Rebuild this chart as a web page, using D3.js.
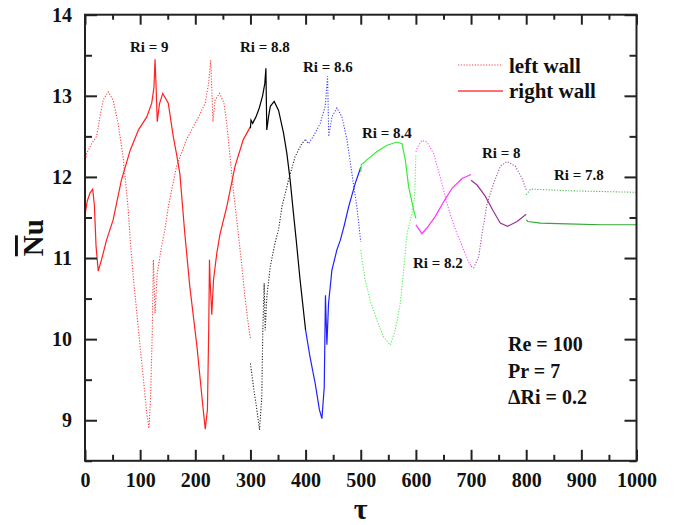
<!DOCTYPE html>
<html>
<head>
<meta charset="utf-8">
<script src="https://cdn.jsdelivr.net/npm/d3@7"></script>
<style>
  body { margin: 0; background: #fff; }
  text { font-family: "Liberation Serif", "Times New Roman", serif; font-weight: bold; fill: #111; }
</style>
</head>
<body>
<div id="container"></div>
<script>
/* DATA : [tau, Nu] pairs */
const ri9Right = [[0,9.9],[0.5,11.55],[4,11.7],[9,11.8],[14,11.85],[17,11.65],[20,11.15],[24,10.84],[30,10.98],[39,11.22],[51,11.47],[66,11.96],[82,12.33],[97,12.58],[112,12.74],[121,12.91],[125,13.1],[127,13.45],[129,13.1],[131,12.68],[135,12.9],[141,13.03],[151,12.91],[160,12.5],[166,12.28],[172,12.04],[181,11.3],[190,10.65],[203,9.91],[212,9.29],[218,8.89],[222,9.13],[224.5,10.2],[225.7,10.98],[227,10.7],[229.9,10.3],[233,10.73],[239,11.06],[245,11.3],[257,11.63],[272,12.13],[287,12.46],[300,12.62]];
const ri9Left = [[0,12.0],[1,12.22],[3,12.29],[12,12.41],[21,12.5],[27,12.74],[33,12.95],[42,13.05],[51,12.95],[60,12.66],[69,12.25],[78,11.63],[82,11.22],[88,10.73],[97,10.11],[106,9.5],[112,9.09],[116,8.9],[119,9.29],[122,10.11],[124,10.98],[127,10.32],[131,10.81],[139,11.15],[145,11.35],[151,11.63],[166,12.13],[184,12.46],[203,12.7],[218,12.91],[224,13.15],[228,13.44],[232,12.68],[236,12.95],[244,13.03],[252,12.91],[257,12.66],[263,12.25],[269,11.84],[278,11.3],[284,10.93],[290,10.52],[296,10.19],[300,10.0]];
const ri88Right = [[300,12.6],[301,12.7],[304,12.66],[310,12.74],[316,12.85],[322,13.0],[326,13.15],[328,13.34],[329.6,12.58],[333,12.75],[336,12.87],[343,12.93],[351,12.82],[360,12.54],[366,12.29],[372,11.96],[378,11.55],[383,11.22],[390,10.73],[400,10.11]];
const ri88Left = [[300,9.7],[305.5,9.41],[311.6,9.13],[316.4,8.88],[320.6,9.29],[322.4,10.11],[324.9,10.69],[326.7,10.11],[329.7,10.52],[335.8,10.89],[345,11.2],[351,11.35],[357,11.63],[369,11.96],[381,12.25],[393,12.41],[400,12.46]];
const ri86Right = [[400,10.11],[408,9.78],[417.5,9.45],[425,9.13],[429.6,9.02],[433.8,9.41],[436,10.54],[438.6,9.93],[441.6,10.44],[447.7,10.85],[456.7,11.1],[463,11.22],[470,11.4],[478,11.63],[490,11.92],[500,12.12]];
const ri86Left = [[400,12.46],[405,12.41],[414,12.5],[426.5,12.66],[435.6,12.87],[439.8,13.24],[442,12.5],[447.7,12.74],[456.8,12.85],[465.9,12.74],[475,12.46],[484,12.04],[493,11.63],[500,11.2]];
const ri84Right = [[500,12.06],[501,12.15],[511,12.21],[529,12.31],[547.6,12.39],[565.7,12.43],[574.8,12.41],[580.8,12.21],[586.8,11.88],[596,11.59],[600,11.49]];
const ri84Left = [[500,11.1],[502,11.0],[508,10.73],[517,10.48],[529,10.24],[541,10.03],[553.6,9.93],[562.6,10.11],[571.7,10.44],[577.7,10.85],[584,11.3],[593,11.55],[597.7,11.75],[600,12.28]];
const ri82Right = [[600,11.41],[603,11.38],[611,11.3],[620,11.37],[635,11.51],[650,11.69],[665.5,11.86],[683.7,11.98],[700,12.03]];
const ri82Left = [[600,12.31],[603,12.37],[611,12.45],[620,12.43],[632,12.29],[644,12.0],[656.5,11.67],[665.5,11.47],[674.6,11.3],[686.7,11.1],[695.7,10.95],[700,10.9]];
const ri8Right = [[700,11.96],[711,11.9],[726,11.76],[741,11.57],[753,11.43],[766,11.39],[783.5,11.45],[800,11.54]];
const ri8Left = [[700,10.9],[704.8,10.88],[714,11.02],[720,11.3],[729,11.67],[741,11.92],[753,12.13],[765,12.19],[768,12.18],[780.5,12.13],[792.6,11.98],[800,11.84]];
const ri78Right = [[800,11.47],[803,11.45],[826,11.43],[874,11.42],[935,11.41],[1000,11.41]];
const ri78Left = [[800,11.78],[808,11.85],[874,11.83],[1000,11.81]];

const riValues = ["9", "8.8", "8.6", "8.4", "8.2", "8", "7.8"];
const xTicks = [0,100,200,300,400,500,600,700,800,900,1000];
const yTicks = [9,10,11,12,13,14];
const infoLines = ["Re = 100", "Pr = 7", "\u0394Ri = 0.2"];

/* CONSTANTS */
const width = 677, height = 525;
const margin = {top: 14.7, right: 40.5, bottom: 64.2, left: 85};

const series = [
  {ri: riValues[0], right: ri9Right,  left: ri9Left,  color: "#ff2020", label: [130, 52]},
  {ri: riValues[1], right: ri88Right, left: ri88Left, color: "#000000", label: [240, 52]},
  {ri: riValues[2], right: ri86Right, left: ri86Left, color: "#2020ff", label: [303, 72]},
  {ri: riValues[3], right: ri84Right, left: ri84Left, color: "#33ee33", label: [362, 138]},
  {ri: riValues[4], right: ri82Right, left: ri82Left, color: "#ff33ff", label: [413, 268]},
  {ri: riValues[5], right: ri8Right,  left: ri8Left,  color: "#993399", label: [482, 158]},
  {ri: riValues[6], right: ri78Right, left: ri78Left, color: "#33a833", label: [554, 180]}
];

/* SCALES */
const x = d3.scaleLinear().domain([0, 1000]).range([margin.left, width - margin.right]);
const y = d3.scaleLinear().domain([8.5, 14]).range([height - margin.bottom, margin.top]);

const svg = d3.select("#container").append("svg")
  .attr("width", width).attr("height", height);

const line = d3.line().x(d => x(d[0])).y(d => y(d[1]));

// curves
const curves = svg.append("g");
series.forEach(s => {
  curves.append("path").datum(s.left)
    .attr("d", line).attr("fill", "none")
    .attr("stroke", s.color).attr("stroke-width", 1.1)
    .attr("stroke-dasharray", "1.2,1.6").attr("opacity", 0.85);
  curves.append("path").datum(s.right)
    .attr("d", line).attr("fill", "none")
    .attr("stroke", s.color).attr("stroke-width", 1.2);
});

// axes (ticks inward)
const minorX = d3.range(50, 1000, 100);
const minorY = [8.5, 9.5, 10.5, 11.5, 12.5, 13.5];
const fmt = d3.format("d");
const axisStyle = g => {
  g.select(".domain").remove();
  g.selectAll("line").attr("stroke", "#222").attr("stroke-width", 2);
};

svg.append("g").attr("transform", `translate(0,${height - margin.bottom})`)
  .call(d3.axisBottom(x).tickValues(xTicks).tickSize(-11).tickPadding(12).tickFormat(fmt))
  .call(axisStyle)
  .selectAll("text").style("font-size", "20px").attr("fill", "#111");
svg.append("g").attr("transform", `translate(0,${height - margin.bottom})`)
  .call(d3.axisBottom(x).tickValues(minorX).tickSize(-6).tickFormat(""))
  .call(axisStyle);
svg.append("g").attr("transform", `translate(0,${margin.top})`)
  .call(d3.axisTop(x).tickValues(xTicks).tickSize(-10).tickFormat(""))
  .call(axisStyle);
svg.append("g").attr("transform", `translate(0,${margin.top})`)
  .call(d3.axisTop(x).tickValues(minorX).tickSize(-5).tickFormat(""))
  .call(axisStyle);

svg.append("g").attr("transform", `translate(${margin.left},0)`)
  .call(d3.axisLeft(y).tickValues(yTicks).tickSize(-12).tickPadding(13).tickFormat(fmt))
  .call(axisStyle)
  .selectAll("text").style("font-size", "20px").attr("fill", "#111");
svg.append("g").attr("transform", `translate(${margin.left},0)`)
  .call(d3.axisLeft(y).tickValues(minorY).tickSize(-7).tickFormat(""))
  .call(axisStyle);
svg.append("g").attr("transform", `translate(${width - margin.right},0)`)
  .call(d3.axisRight(y).tickValues(yTicks).tickSize(-12).tickFormat(""))
  .call(axisStyle);
svg.append("g").attr("transform", `translate(${width - margin.right},0)`)
  .call(d3.axisRight(y).tickValues(minorY).tickSize(-7).tickFormat(""))
  .call(axisStyle);

// frame
svg.append("rect")
  .attr("x", x(0)).attr("y", y(14))
  .attr("width", x(1000) - x(0)).attr("height", y(8.5) - y(14))
  .attr("fill", "none").attr("stroke", "#222").attr("stroke-width", 2);

// axis titles
svg.append("text")
  .attr("x", x(500)).attr("y", 518.5)
  .attr("text-anchor", "middle")
  .style("font-size", "30px")
  .text("\u03c4");

const yt = svg.append("text")
  .attr("transform", `translate(43,${(margin.top + height - margin.bottom) / 2}) rotate(-90)`)
  .attr("text-anchor", "middle")
  .style("font-size", "29px");
yt.append("tspan").style("text-decoration", "overline").text("N");
yt.append("tspan").text("u");

// Ri labels
svg.append("g").selectAll("text")
  .data(series)
  .join("text")
  .attr("x", d => d.label[0]).attr("y", d => d.label[1])
  .style("font-size", "15px")
  .text(d => "Ri = " + d.ri);

// legend
const legend = svg.append("g");
legend.append("line").attr("x1", 458).attr("x2", 503).attr("y1", 65).attr("y2", 65)
  .attr("stroke", "#ff4040").attr("stroke-width", 1.1).attr("stroke-dasharray", "1.2,1.6");
legend.append("line").attr("x1", 458).attr("x2", 503).attr("y1", 91).attr("y2", 91)
  .attr("stroke", "#ff4040").attr("stroke-width", 1.3);
legend.append("text").attr("x", 509).attr("y", 73).style("font-size", "21px").text("left wall");
legend.append("text").attr("x", 509).attr("y", 98).style("font-size", "21px").text("right wall");

// parameters
svg.append("g").selectAll("text")
  .data(infoLines)
  .join("text")
  .attr("x", 508).attr("y", (d, i) => 351 + i * 26.7)
  .style("font-size", "20px")
  .text(d => d);
</script>
</body>
</html>
